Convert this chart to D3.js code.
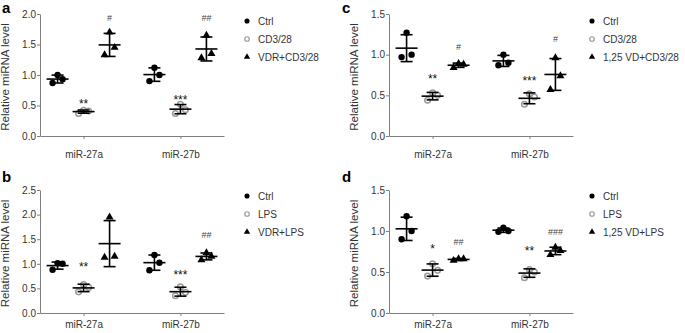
<!DOCTYPE html>
<html><head><meta charset="utf-8">
<script src="https://cdn.jsdelivr.net/npm/d3@7"></script>
<style>
body{margin:0;background:#fff;}
svg{font-family:"Liberation Sans",Arial,sans-serif;}
</style></head>
<body><svg id="c" width="685" height="333"></svg>
<script>
const categories = ["miR-27a", "miR-27b"];

// Panel a
const aCtrl = [[0.87, 0.93, 1.00], [0.90, 1.00, 1.12]];
const aTreat = [[0.37, 0.41, 0.42], [0.37, 0.43, 0.52]];
const aCombo = [[1.33, 1.45, 1.70], [1.28, 1.35, 1.65]];
const aLegend = ["Ctrl", "CD3/28", "VDR+CD3/28"];
const aMarks = [[null, "**", "#"], [null, "***", "##"]];
const aMarkY = [[null, 0.56, 1.95], [null, 0.62, 1.95]];
const aTicks = [0, 0.5, 1.0, 1.5, 2.0];

// Panel b
const bCtrl = [[0.88, 1.00, 1.01], [0.87, 1.02, 1.18]];
const bTreat = [[0.43, 0.52, 0.58], [0.35, 0.42, 0.53]];
const bCombo = [[1.13, 1.15, 1.95], [1.08, 1.15, 1.22]];
const bLegend = ["Ctrl", "LPS", "VDR+LPS"];
const bMarks = [[null, "**", null], [null, "***", "##"]];
const bMarkY = [[null, 0.98, null], [null, 0.82, 1.6]];
const bTicks = [0, 0.5, 1.0, 1.5, 2.0, 2.5];

// Panel c
const cCtrl = [[0.97, 1.00, 1.27], [0.87, 0.90, 1.00]];
const cTreat = [[0.44, 0.50, 0.53], [0.39, 0.48, 0.52]];
const cCombo = [[0.84, 0.88, 0.89], [0.57, 0.74, 0.96]];
const cLegend = ["Ctrl", "CD3/28", "1,25 VD+CD3/28"];
const cMarks = [[null, "**", "#"], [null, "***", "#"]];
const cMarkY = [[null, 0.73, 1.11], [null, 0.70, 1.20]];
const cTicks = [0, 0.5, 1.0, 1.5];

// Panel d
const dCtrl = [[0.90, 1.00, 1.18], [0.99, 1.00, 1.04]];
const dTreat = [[0.45, 0.52, 0.60], [0.43, 0.50, 0.53]];
const dCombo = [[0.64, 0.66, 0.66], [0.71, 0.76, 0.80]];
const dLegend = ["Ctrl", "LPS", "1,25 VD+LPS"];
const dMarks = [[null, "*", "##"], [null, "**", "###"]];
const dMarkY = [[null, 0.80, 0.88], [null, 0.78, 1.00]];
const dTicks = [0, 0.5, 1.0, 1.5];

const jitter = [-5, 5, 0];

const panels = [
  {letter: "a", x0: 40, x1: 224, yTop: 14, yBot: 136, max: 2.0, ticks: aTicks, series: [aCtrl, aTreat, aCombo], legend: aLegend, marks: aMarks, markY: aMarkY, lx: 247, ly: 21, lpx: 2, lpy: 13, xl: 22},
  {letter: "b", x0: 40, x1: 224, yTop: 190, yBot: 313, max: 2.5, ticks: bTicks, series: [bCtrl, bTreat, bCombo], legend: bLegend, marks: bMarks, markY: bMarkY, lx: 247, ly: 196, lpx: 2, lpy: 182, xl: 15},
  {letter: "c", x0: 389, x1: 573, yTop: 14, yBot: 136, max: 1.5, ticks: cTicks, series: [cCtrl, cTreat, cCombo], legend: cLegend, marks: cMarks, markY: cMarkY, lx: 592, ly: 21, lpx: 342, lpy: 13, xl: 22},
  {letter: "d", x0: 389, x1: 573, yTop: 190, yBot: 313, max: 1.5, ticks: dTicks, series: [dCtrl, dTreat, dCombo], legend: dLegend, marks: dMarks, markY: dMarkY, lx: 592, ly: 196, lpx: 342, lpy: 182, xl: 15}
];

const svg = d3.select("#c");
const axisColor = "#7f7f7f";
const textColor = "#333";

function marker(g, type, x, y, s) {
  if (type === 0) {
    g.append("circle").attr("cx", x).attr("cy", y).attr("r", 3.2 * s).attr("fill", "#000");
  } else if (type === 1) {
    g.append("circle").attr("cx", x).attr("cy", y).attr("r", 2.8 * s).attr("fill", "#fff")
      .attr("stroke", "#9a9a9a").attr("stroke-width", 1.5 * s);
  } else {
    g.append("path").attr("d", d3.symbol(d3.symbolTriangle, 28 * s * s)()).attr("transform", `translate(${x},${y})`).attr("fill", "#000");
  }
}

panels.forEach(p => {
  const g = svg.append("g");
  const y = d3.scaleLinear().domain([0, p.max]).range([p.yBot, p.yTop]);
  const x = d3.scalePoint().domain(categories).range([p.x0, p.x1]).padding(0.45);
  const off = d3.scalePoint().domain([0, 1, 2]).range([-26, 26]);

  // y axis
  const ya = g.append("g").attr("transform", `translate(${p.x0},0)`)
    .call(d3.axisLeft(y).tickValues(p.ticks).tickFormat(d3.format(".1f")).tickSize(3).tickSizeOuter(0));
  ya.select(".domain").attr("stroke", axisColor);
  ya.selectAll(".tick line").attr("stroke", axisColor);
  ya.selectAll(".tick text").attr("fill", textColor).attr("font-size", 10).attr("x", -4);

  // x axis
  const xa = g.append("g").attr("transform", `translate(0,${p.yBot})`)
    .call(d3.axisBottom(x).tickSize(3).tickSizeOuter(0));
  xa.select(".domain").attr("stroke", axisColor);
  xa.selectAll(".tick line").attr("stroke", axisColor);
  xa.selectAll(".tick text").attr("fill", textColor).attr("font-size", 10).attr("dy", null).attr("y", p.xl);

  // axis title
  g.append("text").attr("transform", `translate(${p.x0 - 31},${(p.yTop + p.yBot) / 2 + 2}) rotate(-90)`)
    .attr("text-anchor", "middle").attr("font-size", 11.5).attr("fill", textColor).text("Relative miRNA level");

  // panel letter
  g.append("text").attr("x", p.lpx).attr("y", p.lpy).attr("font-size", 15).attr("font-weight", "bold").attr("fill", "#000").text(p.letter);

  // data
  p.series.forEach((ser, si) => {
    ser.forEach((vals, ci) => {
      const cx = x(categories[ci]) + off(si);
      const m = d3.mean(vals), sd = d3.deviation(vals);
      vals.forEach((v, k) => marker(g, si, cx + jitter[k], y(v), 1));
      const eg = g.append("g").attr("stroke", "#000").attr("stroke-width", 1.6);
      eg.append("line").attr("x1", cx).attr("x2", cx).attr("y1", y(m - sd)).attr("y2", y(m + sd));
      eg.append("line").attr("x1", cx - 6).attr("x2", cx + 6).attr("y1", y(m - sd)).attr("y2", y(m - sd));
      eg.append("line").attr("x1", cx - 6).attr("x2", cx + 6).attr("y1", y(m + sd)).attr("y2", y(m + sd));
      eg.append("line").attr("x1", cx - 11).attr("x2", cx + 11).attr("y1", y(m)).attr("y2", y(m));
      const mk = p.marks[ci][si];
      if (mk) {
        const isHash = mk.includes("#");
        g.append("text").attr("x", cx).attr("y", y(p.markY[ci][si]) + (isHash ? 4 : 6)).attr("text-anchor", "middle")
          .attr("font-size", isHash ? 9 : 12).attr("fill", isHash ? "#444" : "#111").text(mk);
      }
    });
  });

  // legend
  p.legend.forEach((lab, i) => {
    const ly = p.ly + i * 18;
    marker(g, i, p.lx, ly, 0.8);
    g.append("text").attr("x", p.lx + 11).attr("y", ly + 3.5).attr("font-size", 10).attr("fill", textColor).text(lab);
  });
});
</script></body></html>
